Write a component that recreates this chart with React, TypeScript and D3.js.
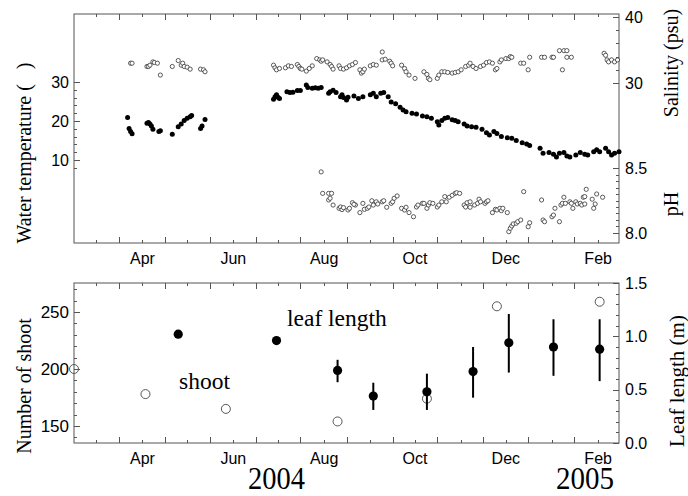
import React, { useRef, useEffect } from 'react';
import * as d3 from 'd3';

// all days are counted from 15 Feb 2004
const START = new Date(2004, 1, 15);
const END = new Date(2005, 1, 15);

const tempDays = [36, 37, 38, 39, 49, 50, 51, 52, 53, 57, 58, 66, 70, 72, 74, 76, 78, 79, 85, 86, 88,
  134, 135, 136, 137, 138, 143, 145, 147, 150, 152, 156, 157, 160, 162, 164, 166, 171, 172, 174, 176,
  179, 180, 181, 183, 184, 188, 191, 194, 199, 201, 203, 206, 208, 211, 213, 216, 219, 221, 223, 227,
  230, 234, 237, 240, 244, 245, 247, 249, 251, 254, 256, 258, 262, 264, 267, 270, 274, 277, 279, 282,
  284, 287, 291, 294, 297, 301, 304, 306, 313, 315, 319, 322, 324, 326, 329, 331, 333, 337, 340, 343,
  345, 349, 351, 353, 357, 359, 361, 363, 366];
const tempValues = [20.9, 18.1, 17.3, 16.7, 19.4, 19.6, 19.2, 18.7, 17.9, 17.3, 17.5, 16.6, 18.5, 19.2, 20.1, 20.7, 21.1, 21.4, 18.1, 18.7, 20.4,
  25.6, 26.2, 26.7, 26.1, 25.8, 27.5, 27.3, 27.4, 27.8, 27.8, 29.2, 28.6, 28.4, 28.5, 28.4, 28.6, 27.1, 27.5, 27.9, 27.3,
  26.2, 26.7, 26.0, 25.4, 26.1, 26.4, 25.8, 26.2, 26.7, 27.1, 26.2, 27.1, 27.3, 26.2, 24.9, 24.4, 23.5, 22.8, 22.4, 22.0,
  21.8, 21.3, 21.1, 20.7, 19.8, 19.0, 20.1, 20.7, 20.9, 20.3, 20.1, 19.8, 19.2, 18.7, 18.5, 18.4, 17.9, 17.0, 16.4, 17.3,
  16.8, 16.0, 15.7, 15.6, 15.0, 14.4, 14.1, 13.7, 13.0, 11.7, 11.9, 11.5, 10.8, 11.7, 11.9, 11.0, 10.8, 11.3, 11.9, 11.5,
  11.3, 12.1, 12.6, 12.1, 13.0, 12.1, 11.3, 11.7, 12.1];

const salDays = [38, 39, 49, 50, 51, 53, 54, 56, 58, 66, 70, 72, 73, 74, 76, 78, 85, 87, 88,
  134, 135, 136, 138, 142, 144, 146, 150, 151, 152, 153, 156, 158, 160, 163, 165, 166, 167, 170, 172, 173, 174,
  178, 179, 181, 183, 185, 187, 189, 192, 193, 194, 195, 199, 201, 203, 207, 207, 209, 212, 213, 214,
  220, 222, 223, 225, 229, 235, 237, 238, 239, 244, 245, 247, 249, 251, 254, 256, 258, 260, 263, 265, 266,
  268, 270, 273, 275, 277, 279, 281, 283, 284, 286, 287, 290, 292, 293, 294, 300, 302, 305, 306,
  314, 316, 321, 322, 326, 329, 331, 328, 331, 334, 356, 357, 358, 359, 361, 363, 365];
const salValues = [33.0, 33.0, 32.5, 32.5, 32.7, 33.2, 33.1, 33.0, 31.2, 32.5, 33.4, 32.7, 33.0, 32.5, 32.4, 32.1, 32.1, 32.0, 31.7,
  32.7, 32.3, 32.0, 32.2, 32.3, 32.6, 32.5, 32.8, 32.5, 32.2, 32.1, 31.8, 32.2, 32.6, 33.7, 33.5, 33.3, 33.5, 33.2, 32.8, 32.5, 32.1,
  32.6, 32.2, 32.1, 32.3, 32.6, 32.8, 33.1, 32.0, 31.5, 31.7, 32.1, 32.6, 32.8, 32.7, 34.7, 33.5, 33.6, 33.3, 33.0, 32.6,
  32.7, 32.2, 31.7, 31.2, 30.7, 31.7, 31.3, 30.7, 30.5, 30.7, 31.2, 31.7, 31.7, 31.6, 31.5, 31.6, 31.7, 32.0, 32.5, 32.7, 33.0,
  32.5, 32.2, 32.5, 32.7, 33.1, 33.2, 33.0, 32.0, 32.2, 33.2, 33.5, 33.7, 33.7, 34.0, 33.9, 33.0, 33.0, 32.0, 33.9,
  33.9, 33.9, 33.9, 33.9, 34.9, 34.9, 34.9, 32.0, 33.9, 33.9, 34.5, 34.2, 33.5, 33.2, 33.5, 33.2, 33.5];

const phDays = [166, 167, 171, 173, 171, 172, 174, 178, 179, 180, 181, 184, 185, 187, 189, 188,
  192, 194, 195, 197, 198, 200, 201, 203, 204, 207, 208, 210, 213, 214, 215, 217,
  220, 222, 223, 225, 228, 230, 231, 234, 235, 237, 238, 239, 241, 244, 245, 247, 249, 250, 252, 254, 256, 257,
  259, 262, 263, 264, 266, 266, 269, 271, 272, 273, 276, 277, 278, 281, 283, 284, 286, 287, 288, 291,
  292, 293, 294, 295, 297, 298, 300, 302, 305, 306, 314, 315, 316, 321, 322, 323, 326,
  327, 328, 329, 330, 333, 334, 335, 337, 338, 340, 341, 342, 343, 344, 343, 348, 349, 350, 351, 355];
const phValues = [8.47, 8.305, 8.305, 8.305, 8.254, 8.267, 8.215, 8.19, 8.2, 8.18, 8.195, 8.177, 8.19, 8.233, 8.215, 8.22,
  8.157, 8.228, 8.182, 8.19, 8.2, 8.248, 8.215, 8.24, 8.223, 8.24, 8.248, 8.198, 8.228, 8.24, 8.267, 8.285,
  8.19, 8.177, 8.198, 8.157, 8.125, 8.2, 8.215, 8.228, 8.228, 8.19, 8.215, 8.233, 8.228, 8.2, 8.215, 8.24, 8.28, 8.24, 8.275, 8.29, 8.305, 8.31,
  8.305, 8.215, 8.2, 8.233, 8.24, 8.198, 8.215, 8.228, 8.26, 8.24, 8.228, 8.24, 8.248, 8.157, 8.182, 8.177, 8.19, 8.172, 8.19, 8.157,
  8.01, 8.036, 8.054, 8.07, 8.075, 8.087, 8.1, 8.318, 8.048, 8.079, 8.254, 8.1, 8.087, 8.125, 8.138, 8.19, 8.087,
  8.215, 8.228, 8.275, 8.228, 8.24, 8.228, 8.19, 8.24, 8.223, 8.228, 8.215, 8.275, 8.28, 8.336, 8.223, 8.26, 8.19, 8.223, 8.3, 8.275];

const shootDays = [0, 48, 102, 177, 237, 284, 353];
const shootCounts = [200, 178, 165, 154, 174, 255, 259];

const leafDays = [70, 136, 177, 201, 237, 268, 292, 322, 353];
const leafMean = [1.02, 0.96, 0.68, 0.44, 0.48, 0.67, 0.94, 0.90, 0.88];
const leafLow = [1.02, 0.96, 0.57, 0.31, 0.31, 0.425, 0.66, 0.63, 0.58];
const leafHigh = [1.02, 0.96, 0.78, 0.565, 0.65, 0.90, 1.21, 1.16, 1.16];

const monthLabels = ['Apr', 'Jun', 'Aug', 'Oct', 'Dec', 'Feb'];
const monthDates = [new Date(2004, 3, 1), new Date(2004, 5, 1), new Date(2004, 7, 1), new Date(2004, 9, 1), new Date(2004, 11, 1), new Date(2005, 1, 1)];

const tempTicks = d3.range(8, 31, 2);
const salTicks = d3.range(30, 41, 2);
const phTicks = d3.range(0, 11).map(i => 8 + i * 0.05);
const shootTicks = d3.range(140, 271, 10);
const leafTicks = d3.range(0, 16).map(i => i / 10);

const SANS = 'Arial, "Liberation Sans", sans-serif';
const SERIF = '"Times New Roman", "Liberation Serif", serif';

export default function App() {
  const svgRef = useRef<SVGSVGElement>(null);

  useEffect(() => {
    if (!svgRef.current) return;
    const svg = d3.select(svgRef.current);
    svg.selectAll('*').remove();

    const left = 74, right = 619;
    const top1 = 14, bottom1 = 243;
    const top2 = 283, bottom2 = 443;
    const frame = '#555';

    const x = d3.scaleTime().domain([START, END]).range([left, right]);
    const day = (d: number) => d3.timeDay.offset(START, d);

    const yTemp = d3.scaleLinear().domain([10, 30]).range([160, 82]);
    const ySal = d3.scaleLinear().domain([30, 40]).range([83, 17]);
    const yPh = d3.scaleLinear().domain([8.0, 8.5]).range([233, 168]);
    const yShoot = d3.scaleLinear().domain([150, 250]).range([426, 312]);
    const yLeaf = d3.scaleLinear().domain([0, 1.5]).range([443, 283]);

    // half-month ticks: short on the 1st, long on the 16th
    const xTicks: { date: Date; long: boolean }[] = [];
    d3.timeMonth.range(new Date(2004, 2, 1), new Date(2005, 2, 1)).forEach(m => {
      xTicks.push({ date: m, long: false });
      const mid = new Date(m.getFullYear(), m.getMonth(), 16);
      if (mid < END) xTicks.push({ date: mid, long: true });
    });

    const drawFrame = (t: number, b: number) => {
      svg.append('rect')
        .attr('x', left).attr('y', t)
        .attr('width', right - left).attr('height', b - t)
        .attr('fill', 'none').attr('stroke', frame).attr('stroke-width', 1);
      const g = svg.append('g').attr('stroke', frame).attr('stroke-width', 1);
      xTicks.forEach(tk => {
        const px = Math.round(x(tk.date)) + 0.5;
        const len = tk.long ? 6 : 3;
        g.append('line').attr('x1', px).attr('x2', px).attr('y1', b).attr('y2', b - len);
        g.append('line').attr('x1', px).attr('x2', px).attr('y1', t).attr('y2', t + len);
      });
    };

    const yTickMarks = (scale: d3.ScaleLinear<number, number>, ticks: number[], side: 'left' | 'right', isMajor: (v: number) => boolean) => {
      const g = svg.append('g').attr('stroke', frame).attr('stroke-width', 1);
      ticks.forEach(v => {
        const py = Math.round(scale(v)) + 0.5;
        const len = isMajor(v) ? 6 : 3;
        const x0 = side === 'left' ? left : right;
        const x1 = side === 'left' ? left + len : right - len;
        g.append('line').attr('x1', x0).attr('x2', x1).attr('y1', py).attr('y2', py);
      });
    };

    const yLabels = (scale: d3.ScaleLinear<number, number>, vals: number[], side: 'left' | 'right', fmt: (v: number) => string, size: number) => {
      svg.append('g').selectAll('text').data(vals).join('text')
        .attr('x', side === 'left' ? left - 5 : right + 6)
        .attr('y', d => scale(d))
        .attr('dy', '0.36em')
        .attr('text-anchor', side === 'left' ? 'end' : 'start')
        .style('font-family', SANS).style('font-size', `${size}px`).attr('fill', '#000')
        .text(d => fmt(d));
    };

    const monthText = (y: number) => {
      svg.append('g').selectAll('text').data(monthLabels).join('text')
        .attr('x', (d, i) => x(monthDates[i]))
        .attr('y', y)
        .attr('text-anchor', 'middle')
        .style('font-family', SANS).style('font-size', '16px').attr('fill', '#000')
        .text(d => d);
    };

    const rotLabel = (txt: string, px: number, py: number, size: number) => {
      svg.append('text')
        .attr('transform', `translate(${px},${py}) rotate(-90)`)
        .attr('text-anchor', 'middle')
        .style('font-family', SERIF).style('font-size', `${size}px`)
        .style('white-space', 'pre')
        .attr('fill', '#000')
        .text(txt);
    };

    // ---- top panel ----
    drawFrame(top1, bottom1);
    yTickMarks(yTemp, tempTicks, 'left', v => v % 10 === 0);
    yTickMarks(ySal, salTicks, 'right', v => v % 10 === 0);
    yTickMarks(yPh, phTicks, 'right', v => Math.abs(v - 8) < 1e-6 || Math.abs(v - 8.5) < 1e-6);
    yLabels(yTemp, [10, 20, 30], 'left', d => String(d), 16);
    yLabels(ySal, [30, 40], 'right', d => String(d), 16);
    yLabels(yPh, [8.0, 8.5], 'right', d => d.toFixed(1), 16);
    monthText(264);

    svg.append('g').selectAll('circle').data(salDays).join('circle')
      .attr('cx', (d) => x(day(d)))
      .attr('cy', (d, i) => ySal(salValues[i]))
      .attr('r', 2.1)
      .attr('fill', 'white').attr('stroke', '#333').attr('stroke-width', 0.8);

    svg.append('g').selectAll('circle').data(phDays).join('circle')
      .attr('cx', (d) => x(day(d)))
      .attr('cy', (d, i) => yPh(phValues[i]))
      .attr('r', 2.1)
      .attr('fill', 'white').attr('stroke', '#333').attr('stroke-width', 0.8);

    svg.append('g').selectAll('circle').data(tempDays).join('circle')
      .attr('cx', (d) => x(day(d)))
      .attr('cy', (d, i) => yTemp(tempValues[i]))
      .attr('r', 2.5)
      .attr('fill', '#000');

    rotLabel('Water temperature (\u00A0\u00A0\u00A0)', 31, 153, 20);
    rotLabel('Salinity (psu)', 678, 63, 20);
    rotLabel('pH', 678, 204, 20);

    // ---- bottom panel ----
    drawFrame(top2, bottom2);
    yTickMarks(yShoot, shootTicks, 'left', v => v % 50 === 0);
    yTickMarks(yLeaf, leafTicks, 'right', v => Math.round(v * 10) % 5 === 0);
    yLabels(yShoot, [150, 200, 250], 'left', d => String(d), 17);
    yLabels(yLeaf, [0, 0.5, 1.0, 1.5], 'right', d => d.toFixed(1), 16);
    monthText(464);

    svg.append('g').selectAll('circle').data(shootDays).join('circle')
      .attr('cx', d => x(day(d)))
      .attr('cy', (d, i) => yShoot(shootCounts[i]))
      .attr('r', 4.5)
      .attr('fill', 'none').attr('stroke', '#555').attr('stroke-width', 1);

    svg.append('g').selectAll('line').data(leafDays).join('line')
      .attr('x1', d => x(day(d))).attr('x2', d => x(day(d)))
      .attr('y1', (d, i) => yLeaf(leafLow[i]))
      .attr('y2', (d, i) => yLeaf(leafHigh[i]))
      .attr('stroke', '#000').attr('stroke-width', 2);

    svg.append('g').selectAll('circle').data(leafDays).join('circle')
      .attr('cx', d => x(day(d)))
      .attr('cy', (d, i) => yLeaf(leafMean[i]))
      .attr('r', 4.6)
      .attr('fill', '#000');

    svg.append('text').attr('x', 287).attr('y', 326)
      .style('font-family', SERIF).style('font-size', '23.5px').attr('fill', '#000')
      .text('leaf length');
    svg.append('text').attr('x', 179).attr('y', 389)
      .style('font-family', SERIF).style('font-size', '23.5px').attr('fill', '#000')
      .text('shoot');

    rotLabel('Number of shoot', 31, 386, 20);
    rotLabel('Leaf length (m)', 684, 381, 21);

    svg.append('text').attr('x', 248).attr('y', 489)
      .attr('textLength', 57).attr('lengthAdjust', 'spacingAndGlyphs')
      .style('font-family', SERIF).style('font-size', '31px').attr('fill', '#000')
      .text('2004');
    svg.append('text').attr('x', 556).attr('y', 489)
      .attr('textLength', 58).attr('lengthAdjust', 'spacingAndGlyphs')
      .style('font-family', SERIF).style('font-size', '31px').attr('fill', '#000')
      .text('2005');
  }, []);

  return (
    <div style={{ position: 'absolute', left: 0, top: 0, background: 'white' }}>
      <svg ref={svgRef} width={688} height={496} style={{ display: 'block' }} />
    </div>
  );
}
